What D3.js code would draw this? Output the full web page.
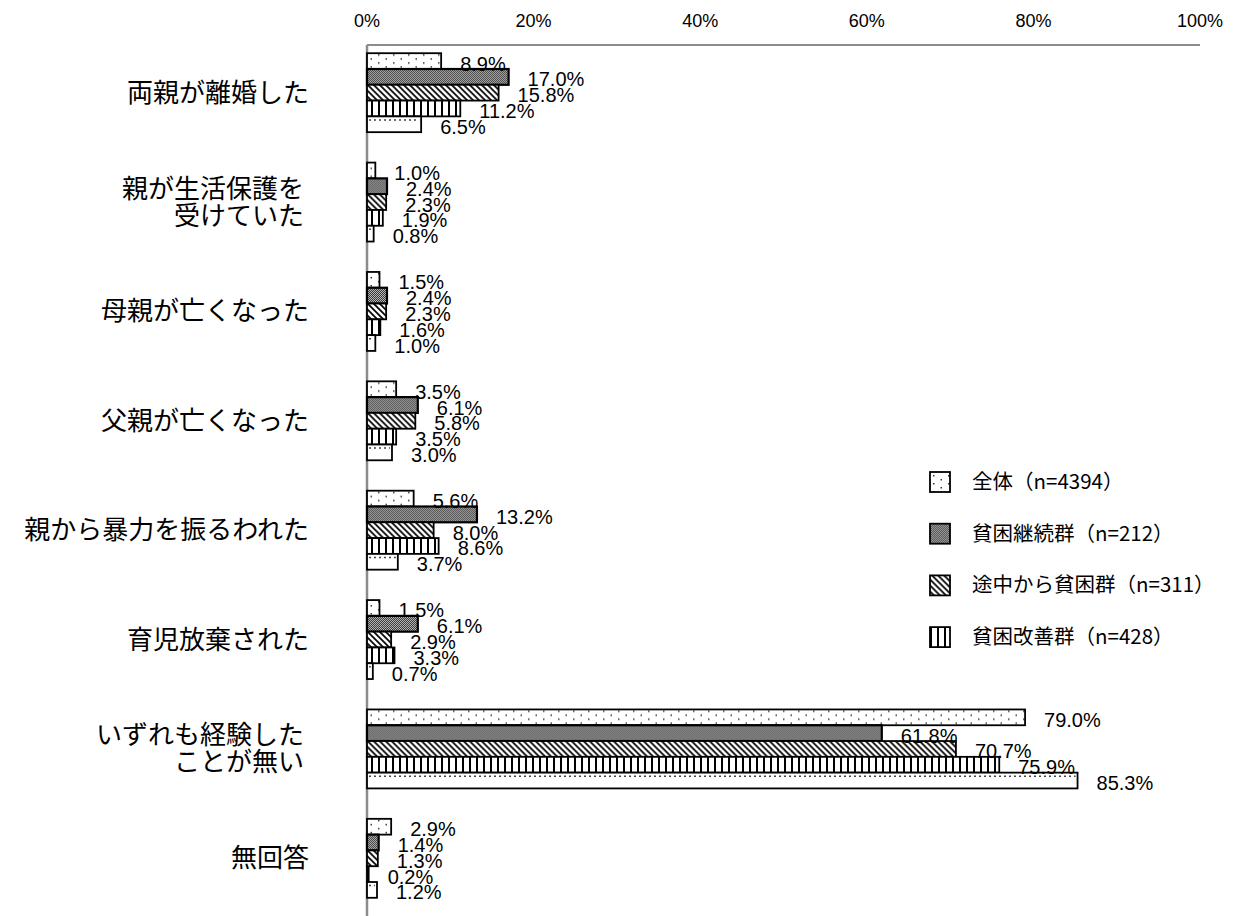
<!DOCTYPE html>
<html>
<meta charset="utf-8">
<head>
<style>
body { margin:0; padding:0; background:#fff; }
svg { display:block; }
.cat { font-family: "Noto Sans CJK JP", sans-serif; font-size: 26px; fill:#000; }
.val { font-family: "Liberation Sans", Arial, sans-serif; font-size: 20px; fill:#000; }
.tick { font-family: "Liberation Sans", Arial, sans-serif; font-size: 18px; fill:#000; }
.leg { font-family: "Noto Sans CJK JP", sans-serif; font-size: 20.5px; fill:#000; }
</style>
</head>
<body>
<svg></svg>
<script src="https://d3js.org/d3.v7.min.js"></script>
<script>

var width = 1237, height = 916;

// categories (\n = line break in the label)
var categories = [
  "両親が離婚した",
  "親が生活保護を\n受けていた",
  "母親が亡くなった",
  "父親が亡くなった",
  "親から暴力を振るわれた",
  "育児放棄された",
  "いずれも経験した\nことが無い",
  "無回答"
];

var seriesNames = ["全体（n=4394）", "貧困継続群（n=212）", "途中から貧困群（n=311）", "貧困改善群（n=428）", "貧困なし群"];

// one array per series, same order as categories
var zentai    = [8.9, 1.0, 1.5, 3.5, 5.6, 1.5, 79.0, 2.9];
var keizoku   = [17.0, 2.4, 2.4, 6.1, 13.2, 6.1, 61.8, 1.4];
var tochu     = [15.8, 2.3, 2.3, 5.8, 8.0, 2.9, 70.7, 1.3];
var kaizen    = [11.2, 1.9, 1.6, 3.5, 8.6, 3.3, 75.9, 0.2];
var nashi     = [6.5, 0.8, 1.0, 3.0, 3.7, 0.7, 85.3, 1.2];

var seriesValues = [zentai, keizoku, tochu, kaizen, nashi];
var ticks = [0, 20, 40, 60, 80, 100];

var svg = d3.select("svg").attr("width", width).attr("height", height);

// patterns
var defs = svg.append("defs");

var p0 = defs.append("pattern").attr("id", "pat0")
    .attr("patternUnits", "userSpaceOnUse").attr("width", 15).attr("height", 8);
p0.append("rect").attr("width", 15).attr("height", 8).attr("fill", "#fff");
p0.append("rect").attr("x", 3).attr("y", 1).attr("width", 1.5).attr("height", 1.5).attr("fill", "#333");
p0.append("rect").attr("x", 10.5).attr("y", 5).attr("width", 1.5).attr("height", 1.5).attr("fill", "#333");

var p1 = defs.append("pattern").attr("id", "pat1")
    .attr("patternUnits", "userSpaceOnUse").attr("width", 2).attr("height", 2);
p1.append("rect").attr("width", 2).attr("height", 2).attr("fill", "#333");
p1.append("rect").attr("x", 0).attr("y", 0).attr("width", 1).attr("height", 1).attr("fill", "#bdbdbd");
p1.append("rect").attr("x", 1).attr("y", 1).attr("width", 1).attr("height", 1).attr("fill", "#bdbdbd");

var p2 = defs.append("pattern").attr("id", "pat2")
    .attr("patternUnits", "userSpaceOnUse").attr("width", 6).attr("height", 6);
p2.append("rect").attr("width", 6).attr("height", 6).attr("fill", "#fff");
p2.append("path").attr("d", "M0,0L6,6M-3,3L3,9M3,-3L9,3")
    .attr("stroke", "#000").attr("stroke-width", 1.7);

var p3 = defs.append("pattern").attr("id", "pat3")
    .attr("patternUnits", "userSpaceOnUse").attr("width", 7).attr("height", 7);
p3.append("rect").attr("width", 7).attr("height", 7).attr("fill", "#fff");
p3.append("rect").attr("x", 0).attr("width", 2).attr("height", 7).attr("fill", "#000");

var fills = ["url(#pat0)", "url(#pat1)", "url(#pat2)", "url(#pat3)", "#fff"];

// scales
var x = d3.scaleLinear().domain([0, 100]).range([367, 1200]);

var y = d3.scaleBand().domain(categories).range([38, 913])
    .paddingInner(0.278).paddingOuter(0.139);

var ys = d3.scaleBand().domain(d3.range(seriesNames.length)).range([0, y.bandwidth()]);

// frame: top line and left axis
svg.append("line")
    .attr("x1", x(0)).attr("x2", x(100)).attr("y1", 45).attr("y2", 45)
    .attr("stroke", "#8c8c8c").attr("stroke-width", 2);
svg.append("line")
    .attr("x1", x(0)).attr("x2", x(0)).attr("y1", 45).attr("y2", height)
    .attr("stroke", "#8c8c8c").attr("stroke-width", 2.5);

// top tick labels
svg.selectAll(".tick").data(ticks).enter().append("text")
    .attr("class", "tick")
    .attr("x", function(d) { return x(d); })
    .attr("y", 27)
    .attr("text-anchor", "middle")
    .text(function(d) { return d + "%"; });

// bars
var groups = svg.selectAll(".grp").data(categories).enter().append("g")
    .attr("class", "grp")
    .attr("transform", function(d) { return "translate(0," + y(d) + ")"; });

groups.each(function(cat, ci) {
  var g = d3.select(this);
  seriesValues.forEach(function(vals, si) {
    var v = vals[ci];
    g.append("rect")
      .attr("x", x(0))
      .attr("y", ys(si))
      .attr("width", x(v) - x(0))
      .attr("height", ys.bandwidth())
      .attr("fill", fills[si])
      .attr("stroke", "#000")
      .attr("stroke-width", si === 1 ? 2.2 : 1.8);
    if (si === 4) {
      g.append("line")
        .attr("x1", x(0) + 2).attr("x2", Math.max(x(0) + 2, x(v) - 2))
        .attr("y1", ys(si) + 3.5).attr("y2", ys(si) + 3.5)
        .attr("stroke", "#444").attr("stroke-width", 1.5)
        .attr("stroke-dasharray", "2 3");
    }
  });
  seriesValues.forEach(function(vals, si) {
    var v = vals[ci];
    g.append("text")
      .attr("class", "val")
      .attr("x", x(v) + 19)
      .attr("y", ys(si) + ys.bandwidth() / 2 + 9.5)
      .text(v.toFixed(1) + "%");
  });
});

// category labels
svg.selectAll(".cat").data(categories).enter().append("text")
    .attr("class", "cat")
    .attr("text-anchor", "end")
    .attr("transform", function(d) {
      var lines = d.split("\n").length;
      var cy = y(d) + y.bandwidth() / 2 - (lines - 1) * 13.5 + 9;
      var cx = lines > 1 ? 304 : 309;
      return "translate(" + cx + "," + cy + ")";
    })
    .each(function(d) {
      var t = d3.select(this);
      d.split("\n").forEach(function(line, i) {
        t.append("tspan").attr("x", 0).attr("dy", i === 0 ? 0 : 27).text(line);
      });
    });

// legend (only the first four entries are visible in the source chart)
var legendItems = seriesNames.slice(0, 4);
var leg = svg.selectAll(".legi").data(legendItems).enter().append("g")
    .attr("class", "legi")
    .attr("transform", function(d, i) { return "translate(930," + (482 + i * 51.7) + ")"; });

leg.append("rect")
    .attr("x", 0).attr("y", -10).attr("width", 20).attr("height", 20)
    .attr("fill", function(d, i) { return fills[i]; })
    .attr("stroke", "#000").attr("stroke-width", 1.8);

leg.append("text")
    .attr("class", "leg")
    .attr("x", 42).attr("y", 7)
    .text(function(d) { return d; });

</script>
</body>
</html>
